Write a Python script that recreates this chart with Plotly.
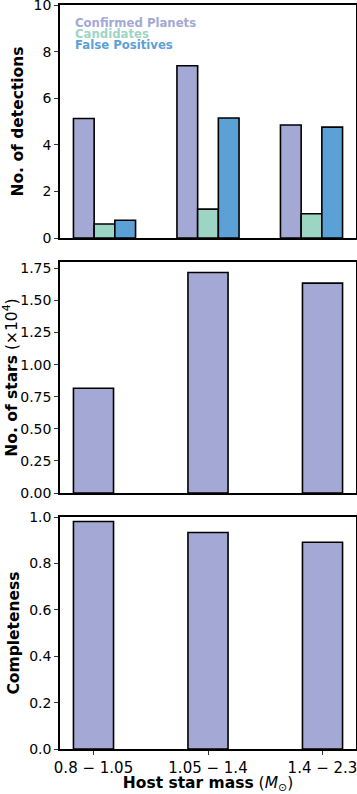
import plotly.graph_objects as go
from plotly.subplots import make_subplots

# ---- data ----
mass_bins = ["0.8 \u2212 1.05", "1.05 \u2212 1.4", "1.4 \u2212 2.3"]
series_names = ["Confirmed Planets", "Candidates", "False Positives"]
confirmed = [5.13, 7.39, 4.85]
candidates = [0.60, 1.24, 1.04]
false_pos = [0.76, 5.15, 4.76]
stars_e4 = [0.816, 1.718, 1.635]
completeness = [0.981, 0.933, 0.891]

colors = ["#a3a8d5", "#9dd5c5", "#5ba1d6"]
FONT = "DejaVu Sans"

fig = make_subplots(rows=3, cols=1)

for name, vals, col in zip(series_names, [confirmed, candidates, false_pos], colors):
    fig.add_trace(go.Bar(x=mass_bins, y=vals, name=name, marker=dict(color=col, line=dict(color="black", width=1.6)),
                         showlegend=False, hoverinfo="skip"), row=1, col=1)

fig.add_trace(go.Bar(x=mass_bins, y=stars_e4, width=0.35, marker=dict(color=colors[0], line=dict(color="black", width=1.6)),
                     showlegend=False, hoverinfo="skip"), row=2, col=1)
fig.add_trace(go.Bar(x=mass_bins, y=completeness, width=0.35, marker=dict(color=colors[0], line=dict(color="black", width=1.6)),
                     showlegend=False, hoverinfo="skip"), row=3, col=1)

axis_common = dict(showline=True, linecolor="black", linewidth=1.5, mirror=True, showgrid=False, zeroline=False,
                   automargin=False)

fig.update_layout(
    width=357, height=794,
    margin=dict(l=60, r=1, t=5, b=45),
    plot_bgcolor="white", paper_bgcolor="white",
    barmode="group", bargap=0.4, bargroupgap=0,
    font=dict(family=FONT, color="black"),
)

fig.update_xaxes(**axis_common, domain=[0, 1], tickfont=dict(family=FONT, size=15, color="black"))
fig.update_xaxes(range=[-0.43, 2.43], showticklabels=False, ticks="", row=1, col=1)
fig.update_xaxes(range=[-0.2925, 2.2925], showticklabels=False, ticks="", row=2, col=1)
fig.update_xaxes(range=[-0.2925, 2.2925], ticks="outside", ticklen=4, tickwidth=1, tickcolor="#333",
                 title=dict(text="<b>Host star mass</b> (<i>M</i><sub>\u2299</sub>)", font=dict(family=FONT, size=15.5), standoff=2),
                 row=3, col=1)

fig.update_yaxes(**axis_common, ticks="outside", ticklen=4, tickwidth=1, tickcolor="#333",
                 ticklabeloverflow="allow", tickfont=dict(family=FONT, size=14, color="black"))
fig.update_yaxes(domain=[0.6868, 1.0], range=[0, 10], dtick=2,
                 title=dict(text="<b>No. of detections</b>", font=dict(family=FONT, size=15.5), standoff=6), row=1, col=1)
fig.update_yaxes(domain=[0.344, 0.6546], range=[0, 1.8], dtick=0.25, tickformat=".2f",
                 title=dict(text="<b>No. of stars</b> (\u00d710<sup>4</sup>)", font=dict(family=FONT, size=15.5), standoff=6), row=2, col=1)
fig.update_yaxes(domain=[0, 0.3118], range=[0, 1.0], dtick=0.2, tickformat=".1f",
                 title=dict(text="<b>Completeness</b>", font=dict(family=FONT, size=15.5), standoff=6), row=3, col=1)

legend_y = [0.922, 0.876, 0.830]
for name, col, yy in zip(series_names, colors, legend_y):
    fig.add_annotation(text=f"<b>{name}</b>", xref="x domain", yref="y domain", x=0.045, y=yy,
                       xanchor="left", yanchor="middle", showarrow=False,
                       font=dict(family=FONT, size=11.7, color=col))

fig.write_html("out.html", config={"displayModeBar": False},
               post_script="document.body.style.margin='0';document.body.style.overflow='hidden';")
